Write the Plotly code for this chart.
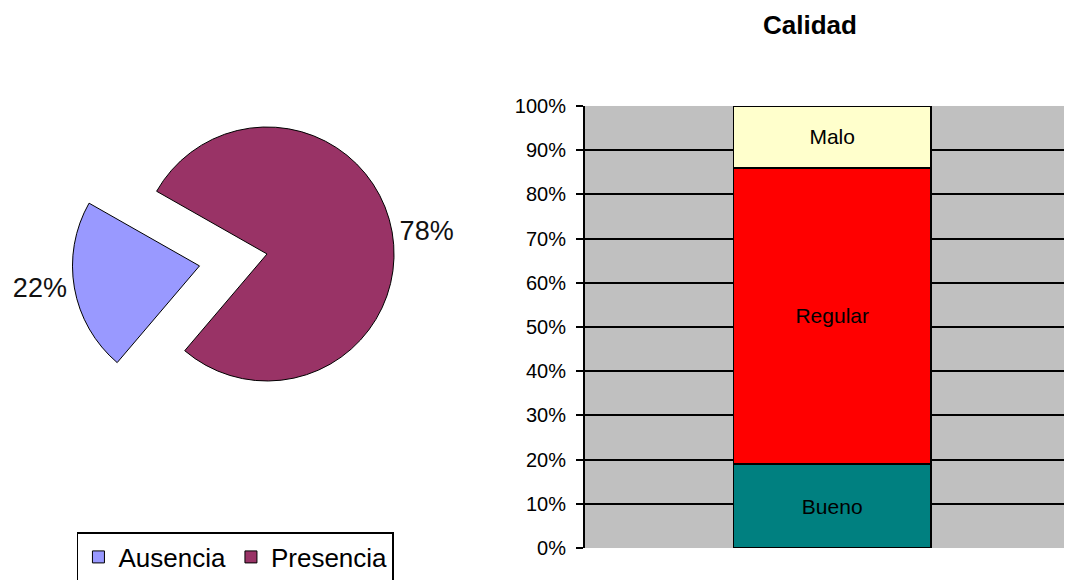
import plotly.graph_objects as go

# pie data
pie_labels = ['Ausencia', 'Presencia']
pie_values = [22, 78]
pie_colors = ['#9999FF', '#993366']

# stacked bar data (percent of total)
bar_cats = ['Bueno', 'Regular', 'Malo']
bar_values = [0.19, 0.67, 0.14]
bar_colors = ['#008080', '#FF0000', '#FFFFCC']
y_ticks = [i / 10 for i in range(11)]

FONT = 'Liberation Sans, Arial, sans-serif'

fig = go.Figure()

fig.add_trace(go.Pie(
    labels=pie_labels, values=pie_values, sort=False,
    marker=dict(colors=pie_colors, line=dict(color='black', width=1)),
    pull=[0.54, 0], rotation=220.4, direction='counterclockwise',
    textinfo='percent', textposition='outside',
    textfont=dict(size=27, color='#111', family=FONT),
    domain=dict(x=[0.0596, 0.4273], y=[0.228, 0.9119]),
    showlegend=True,
))

for cat, val, col in zip(bar_cats, bar_values, bar_colors):
    fig.add_trace(go.Bar(
        x=[0], y=[val], name=cat, width=0.4,
        marker=dict(color=col, line=dict(color='black', width=1.5)),
        text=[cat], textposition='inside', insidetextanchor='middle',
        textfont=dict(size=21, color='black', family=FONT),
        constraintext='none', showlegend=False, hoverinfo='y+name',
    ))

# page body keeps an 8px margin, so the figure is 8px smaller than the window
fig.update_layout(
    width=1064, height=572,
    margin=dict(l=0, r=0, t=0, b=0, autoexpand=False),
    paper_bgcolor='white', plot_bgcolor='#C0C0C0',
    barmode='stack',
    font=dict(family=FONT, color='black'),
    xaxis=dict(domain=[0.5423, 1.0], range=[-0.5, 0.485], showticklabels=False,
               showgrid=False, zeroline=False, ticks='', automargin=False),
    yaxis=dict(domain=[0.0559, 0.8287], range=[0, 1], tickvals=y_ticks,
               tickformat='.0%', tickfont=dict(size=20, color='black'),
               showgrid=True, gridcolor='black', gridwidth=1.8, automargin=False,
               zeroline=False, showline=True, linecolor='black', linewidth=2,
               ticks='outside', ticklen=7, tickcolor='black', tickwidth=1.8,
               ticklabelstandoff=6),
    legend=dict(orientation='h', x=0.0648, y=0.0839, xanchor='left', yanchor='top',
                traceorder='normal', itemwidth=30,
                bordercolor='black', borderwidth=1.5, bgcolor='white',
                font=dict(size=26, color='black')),
    annotations=[dict(text='<b>Calidad</b>', x=0.7538, y=1.0, xref='paper', yref='paper',
                      xanchor='center', yanchor='top',
                      showarrow=False, font=dict(size=26, color='black'))],
)

fig.write_html('out.html')
